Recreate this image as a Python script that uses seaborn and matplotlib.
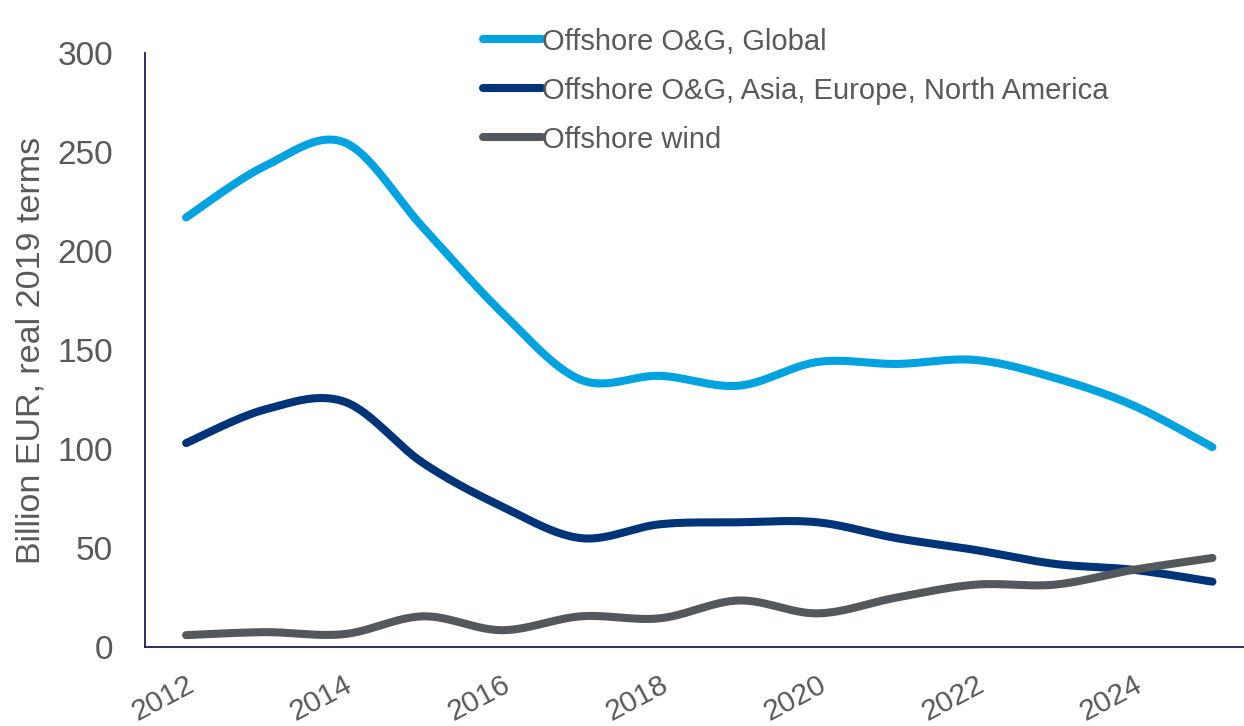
import numpy as np
import pandas as pd
import matplotlib
matplotlib.use("Agg")
import matplotlib.pyplot as plt
import seaborn as sns

# data (billion EUR, real 2019 terms)
years = list(range(2012, 2026))
global_og = [217, 243, 255, 212, 169, 135, 137, 132, 144, 143, 145, 136, 122, 101]
asia_eu_na_og = [103, 120, 124, 93, 71, 55, 62, 63, 63, 55, 49, 42, 39, 33]
offshore_wind = [6, 7.5, 6.5, 15.5, 8.5, 15.5, 14.5, 23.5, 17, 25, 31.5, 31.5, 39, 45]

series_names = ["Offshore O&G, Global",
                "Offshore O&G, Asia, Europe, North America",
                "Offshore wind"]
colors = ["#00A3E0", "#003478", "#54585A"]
text_grey = "#595959"


def smooth(x, y, steps=30):
    # Excel-style smoothed line (Catmull-Rom -> cubic Bezier)
    x = np.asarray(x, float)
    y = np.asarray(y, float)
    px = np.concatenate([[x[0]], x, [x[-1]]])
    py = np.concatenate([[y[0]], y, [y[-1]]])
    xs, ys = [], []
    t = np.linspace(0, 1, steps, endpoint=False)
    for i in range(1, len(px) - 2):
        p0 = np.array([px[i], py[i]])
        p3 = np.array([px[i + 1], py[i + 1]])
        c1 = p0 + (np.array([px[i + 1], py[i + 1]]) - np.array([px[i - 1], py[i - 1]])) / 6
        c2 = p3 - (np.array([px[i + 2], py[i + 2]]) - np.array([px[i], py[i]])) / 6
        pts = ((1 - t) ** 3)[:, None] * p0 + (3 * (1 - t) ** 2 * t)[:, None] * c1 \
            + (3 * (1 - t) * t ** 2)[:, None] * c2 + (t ** 3)[:, None] * p3
        xs.extend(pts[:, 0])
        ys.extend(pts[:, 1])
    xs.append(x[-1])
    ys.append(y[-1])
    return xs, ys


frames = []
for name, vals in zip(series_names, [global_og, asia_eu_na_og, offshore_wind]):
    sx, sy = smooth(years, vals)
    frames.append(pd.DataFrame({"year": sx, "value": sy, "series": name}))
df = pd.concat(frames, ignore_index=True)

sns.set_theme(style="white")
plt.rcParams["font.family"] = ["Liberation Sans", "DejaVu Sans"]

fig = plt.figure(figsize=(12.44, 7.26), dpi=100)
ax = fig.add_axes([0.1166, 0.1088, 0.8834, 0.818])

sns.lineplot(data=df, x="year", y="value", hue="series", hue_order=series_names,
             palette=colors, linewidth=5.8, sort=False, ax=ax, estimator=None)
for line in ax.get_lines():
    line.set_solid_capstyle("round")

ax.set_xlim(2011.48, 2025.4)
ax.set_ylim(0, 300)
ax.set_yticks(range(0, 301, 50))
ax.set_xticks(range(2012, 2025, 2))
ax.set_xticklabels([str(y) for y in range(2012, 2025, 2)], rotation=28,
                   ha="right", rotation_mode="anchor")
ax.tick_params(axis="y", labelsize=24, colors=text_grey, length=0, pad=23)
ax.tick_params(axis="x", labelsize=21.5, colors=text_grey, length=0, pad=17)
ax.set_xlabel("")
ax.set_ylabel("Billion EUR, real 2019 terms", fontsize=24.5, color=text_grey, labelpad=8)

sns.despine(ax=ax)
for side in ["left", "bottom"]:
    ax.spines[side].set_color("#1C2050")
    ax.spines[side].set_linewidth(1.3)

leg = fig.legend(*ax.get_legend_handles_labels(), loc="upper left",
                 bbox_to_anchor=(0.388, 0.962), frameon=False, borderpad=0,
                 borderaxespad=0, fontsize=21, handlelength=2.05, handletextpad=0.0,
                 labelspacing=0.72, labelcolor=text_grey)
ax.get_legend().remove()
for h in leg.get_lines():
    h.set_linewidth(5.8)
    h.set_solid_capstyle("round")

fig.savefig("out.png", dpi=100)
